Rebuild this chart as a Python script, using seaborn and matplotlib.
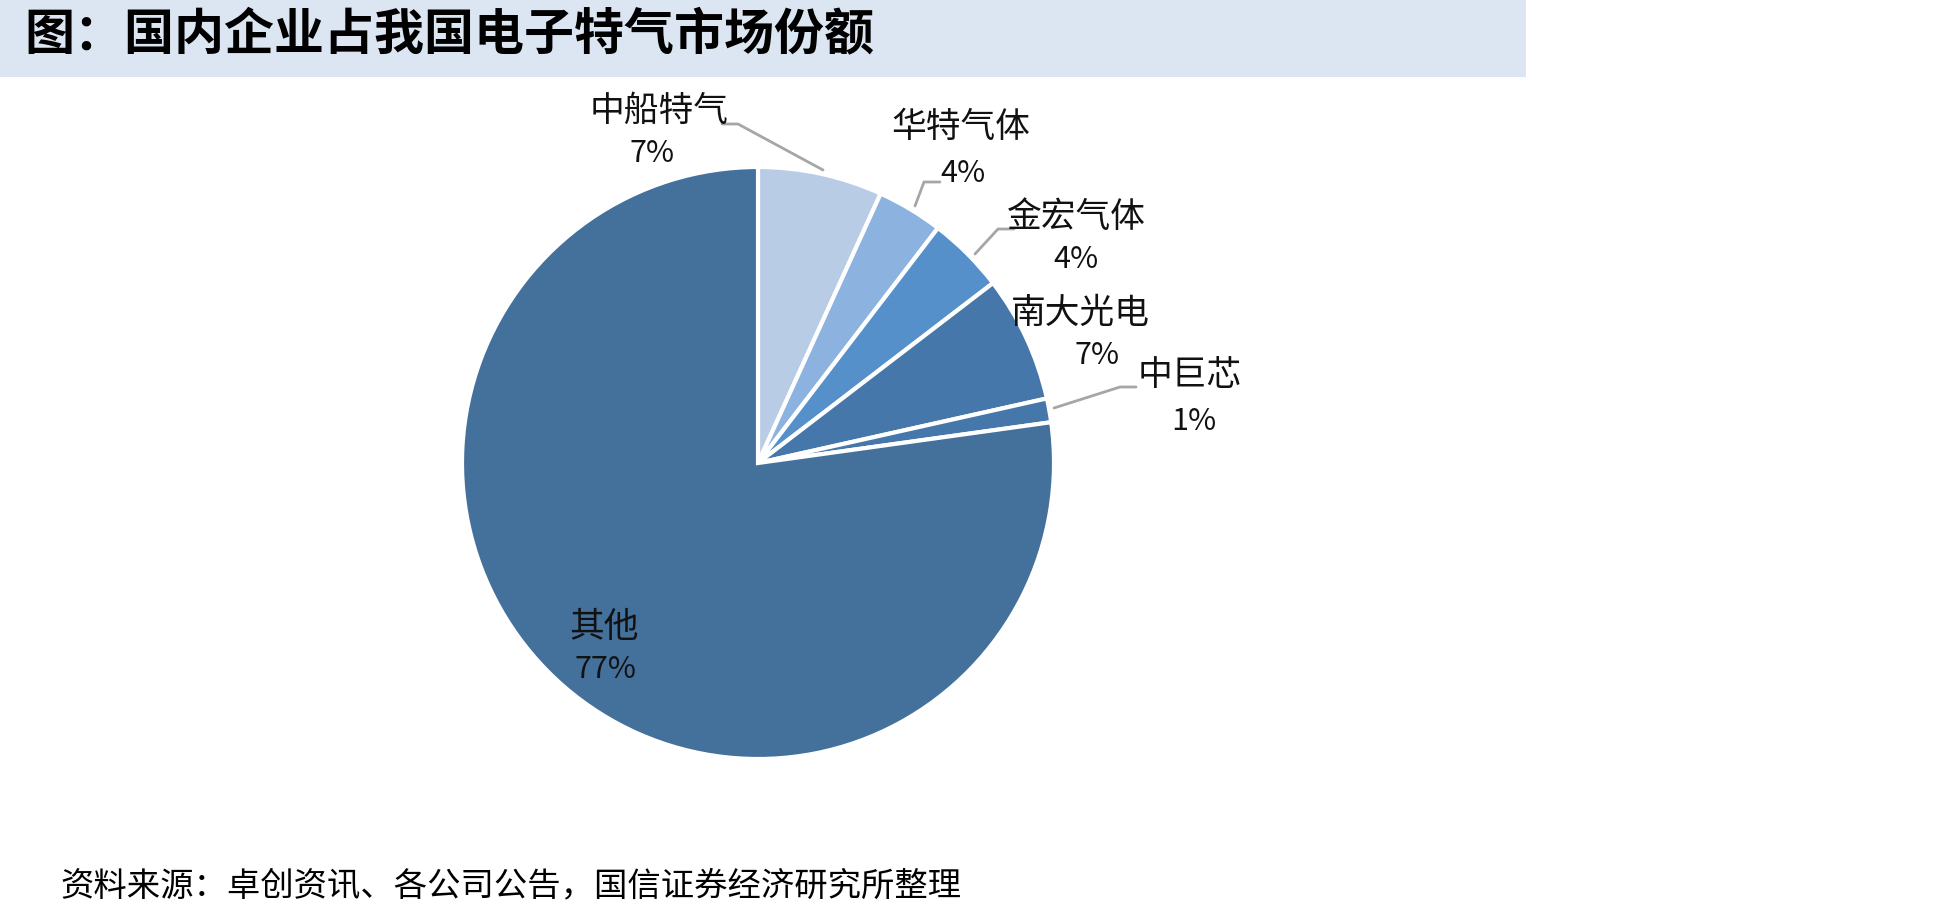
import matplotlib
matplotlib.use("Agg")
import matplotlib.pyplot as plt
from matplotlib.patches import Rectangle
import seaborn as sns

# data
companies = ["中船特气", "华特气体", "金宏气体", "南大光电", "中巨芯", "其他"]
shares = [6.8, 3.6, 4.2, 6.9, 1.3, 77.2]
colors = ["#B8CCE6", "#8CB3E0", "#5590CB", "#4577AA", "#4577AA", "#44709C"]

title = "图：国内企业占我国电子特气市场份额"
source = "资料来源：卓创资讯、各公司公告，国信证券经济研究所整理"

sns.set_theme(style="white")
plt.rcParams["font.family"] = ["Noto Sans CJK SC", "DejaVu Sans"]

W, H = 1940, 915
fig = plt.figure(figsize=(W / 100, H / 100), dpi=100)
fig.patch.set_facecolor("white")


def px(x, y):
    return x / W, 1 - y / H


# title bar
fig.patches.append(Rectangle(px(0, 77), 1526 / W, 77 / H, transform=fig.transFigure,
                             facecolor="#DCE6F2", edgecolor="none", zorder=0))
fig.text(*px(24, 35), title, fontsize=36, fontweight="bold", color="black",
         ha="left", va="center")

# pie
cx, cy, r = 758, 463, 296
half = r * 1.25
ax = fig.add_axes([(cx - half) / W, 1 - (cy + half) / H, 2 * half / W, 2 * half / H])
ax.pie(shares, colors=colors, startangle=90, counterclock=False,
       wedgeprops=dict(edgecolor="white", linewidth=3))
ax.set_aspect("equal")

# labels (name, percent) positions in pixels
label_pos = [(659, 111, 652, 153), (961, 127, 963, 173), (1076, 217, 1076, 260),
             (1080, 313, 1097, 356), (1190, 375, 1194, 421), (604, 628, 606, 669)]
for name, v, (nx, ny, vx, vy) in zip(companies, shares, label_pos):
    fig.text(*px(nx, ny), name, fontsize=25, ha="center", va="center", color="#111111")
    fig.text(*px(vx, vy), f"{v:.0f}%", fontsize=22, ha="center", va="center", color="#111111")

# leader lines
leaders = [[(722, 124), (738, 124), (823, 170)],
           [(940, 182), (924, 182), (915, 206)],
           [(1014, 229), (998, 229), (975, 254)],
           [(1136, 387), (1120, 387), (1054, 408)]]
for pts in leaders:
    xs = [px(x, y)[0] for x, y in pts]
    ys = [px(x, y)[1] for x, y in pts]
    fig.add_artist(plt.Line2D(xs, ys, transform=fig.transFigure, color="#A6A6A6", lw=2))

fig.text(*px(60, 886), source, fontsize=24, ha="left", va="center", color="black")

fig.savefig("out.png", dpi=100)
